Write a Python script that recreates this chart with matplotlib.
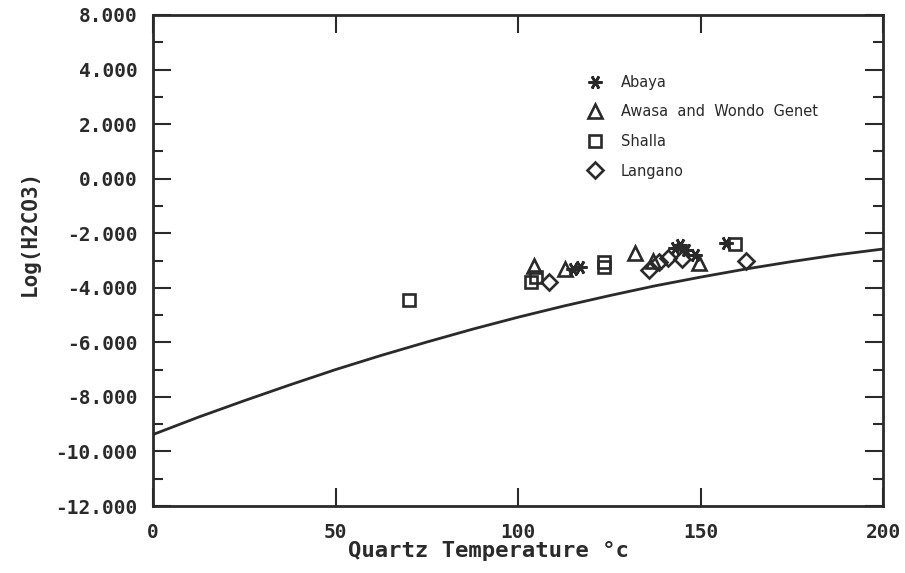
import matplotlib
matplotlib.use("Agg")
import matplotlib.pyplot as plt

# Reference curve
curve_x = [0, 12.5, 25, 37.5, 50, 62.5, 75, 87.5, 100, 112.5, 125, 137.5,
           150, 162.5, 175, 187.5, 200]
curve_y = [-9.38, -8.74, -8.14, -7.56, -7.00, -6.48, -5.99, -5.52, -5.08,
           -4.67, -4.29, -3.93, -3.61, -3.31, -3.04, -2.79, -2.58]

# Sample groups
abaya_x = [115, 117, 143, 144.5, 146, 148.5, 157]
abaya_y = [-3.3, -3.25, -2.55, -2.45, -2.6, -2.8, -2.35]
awasa_x = [104.5, 113, 132, 137, 149.5]
awasa_y = [-3.2, -3.3, -2.72, -3.0, -3.1]
shalla_x = [70, 103.5, 105, 123.5, 123.5, 159.5]
shalla_y = [-4.45, -3.8, -3.6, -3.05, -3.25, -2.4]
langano_x = [108.5, 136, 138.5, 141, 145, 162.5]
langano_y = [-3.8, -3.35, -3.05, -2.9, -2.95, -3.0]

x_ticks = [0, 50, 100, 150, 200]
y_ticks = [-12, -10, -8, -6, -4, -2, 0, 2, 4, 6]
y_tick_labels = ["-12.000", "-10.000", "-8.000", "-6.000", "-4.000",
                 "-2.000", "0.000", "2.000", "4.000", "8.000"]
legend_labels = ["Abaya", "Awasa  and  Wondo  Genet", "Shalla", "Langano"]

ink = "#2a2a2a"
mono = "DejaVu Sans Mono"

fig = plt.figure(figsize=(9.05, 5.73), dpi=100)
ax = fig.add_axes([153/905, 1-506/573, (883-153)/905, (506-15)/573])

ax.plot(curve_x, curve_y, color=ink, lw=2)

mk = dict(linestyle="none", color=ink, mfc="none", mew=1.9, ms=10)
ax.plot(abaya_x, abaya_y, marker=(6, 2, 90), label=legend_labels[0], **mk)
ax.plot(awasa_x, awasa_y, marker="^", label=legend_labels[1], **mk)
ax.plot(shalla_x, shalla_y, marker="s", label=legend_labels[2], **{**mk, "ms": 9})
ax.plot(langano_x, langano_y, marker="D", label=legend_labels[3], **{**mk, "ms": 8})

ax.set_xlim(0, 200)
ax.set_ylim(-12, 6)
ax.set_xticks(x_ticks)
ax.set_xticklabels([str(t) for t in x_ticks], family=mono, fontsize=14, fontweight="bold", color=ink)
ax.set_yticks(y_ticks)
ax.set_yticklabels(y_tick_labels, family=mono, fontsize=14, fontweight="bold", color=ink)
ax.set_yticks(list(range(-11, 6, 2)), minor=True)

ax.tick_params(which="both", direction="in", top=True, right=True, color=ink, width=1.5)
ax.tick_params(which="major", length=13)
ax.tick_params(axis="y", which="major", pad=11)
ax.tick_params(axis="x", which="major", pad=12)
ax.tick_params(which="minor", length=7)
for s in ax.spines.values():
    s.set_linewidth(2)
    s.set_color(ink)

ax.set_xlabel("Quartz Temperature °c", family=mono, fontsize=16, fontweight="bold", color=ink)
ax.xaxis.set_label_coords(0.459, -0.072)
ax.set_ylabel("Log(H2CO3)", family=mono, fontsize=15, fontweight="bold", color=ink)
ax.yaxis.set_label_coords(-0.155, 0.556)

leg = ax.legend(loc="upper left", bbox_to_anchor=(0.575, 0.905), frameon=False,
                labelspacing=1.0, handletextpad=1.2, handlelength=1.2,
                prop={"family": "DejaVu Sans", "size": 10.5})
for t in leg.get_texts():
    t.set_color(ink)

fig.savefig("out.png", dpi=100)
